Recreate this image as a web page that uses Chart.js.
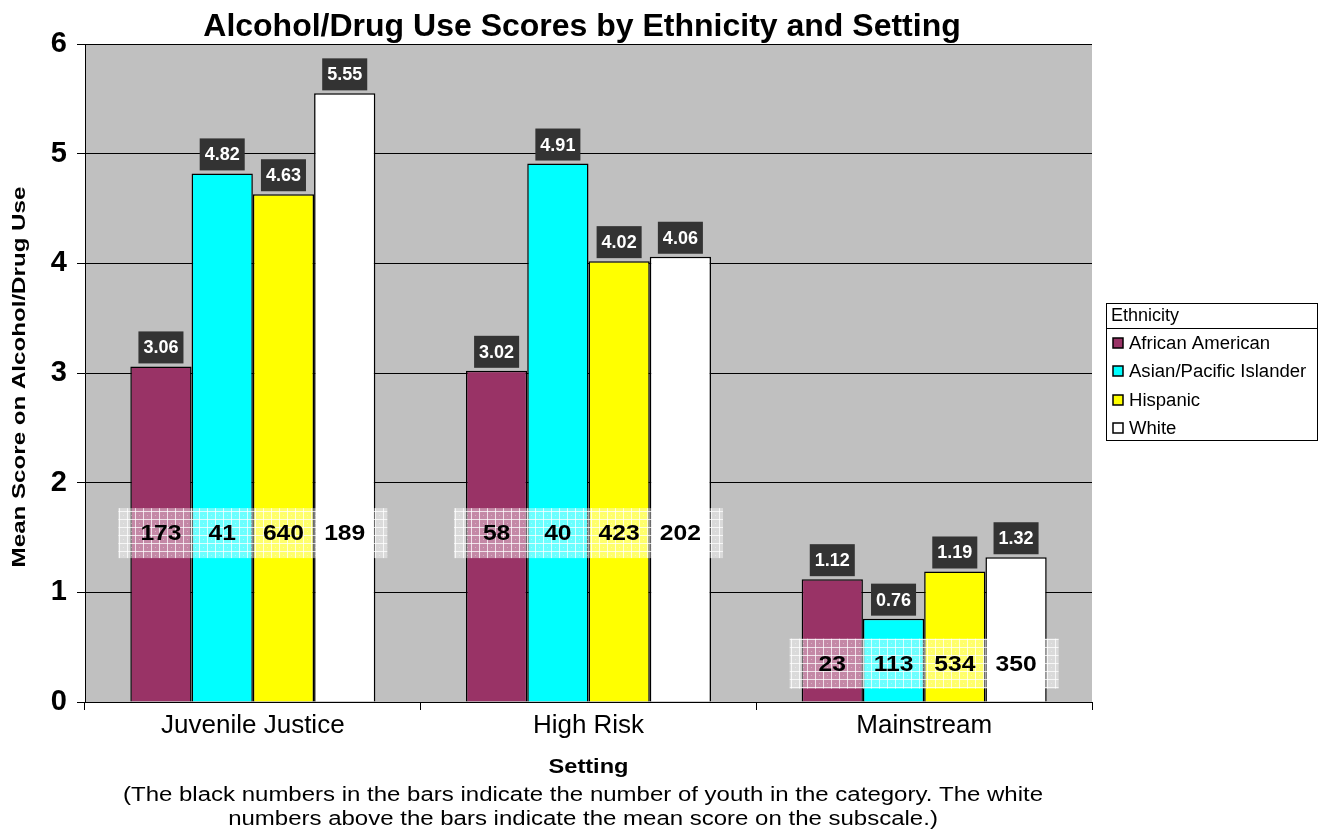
<!DOCTYPE html>
<html>
<head>
<meta charset="utf-8">
<title>Alcohol/Drug Use Scores by Ethnicity and Setting</title>
<script src="https://cdn.jsdelivr.net/npm/chart.js@4/dist/chart.umd.min.js"></script>
<style>
  html, body { margin: 0; padding: 0; background: #ffffff; }
  #wrap { width: 1320px; height: 834px; }
</style>
</head>
<body>
<div id="wrap"><canvas id="chart" width="1320" height="834"></canvas></div>
<script>
// Settings along the x axis
const settings = ['Juvenile Justice', 'High Risk', 'Mainstream'];

// Ethnic groups (one bar series each)
const ethnicities = ['African American', 'Asian/Pacific Islander', 'Hispanic', 'White'];

// Mean score on the alcohol/drug use subscale, per setting
const africanAmerican = [3.06, 3.02, 1.12];
const asianPacific    = [4.82, 4.91, 0.76];
const hispanic        = [4.63, 4.02, 1.19];
const white           = [5.55, 4.06, 1.32];

// Number of youth in each category, per setting
const nAfricanAmerican = [173, 58, 23];
const nAsianPacific    = [41, 40, 113];
const nHispanic        = [640, 423, 534];
const nWhite           = [189, 202, 350];

// Y axis ticks
const yTicks = [0, 1, 2, 3, 4, 5, 6];

const seriesValues = [africanAmerican, asianPacific, hispanic, white];
const seriesCounts = [nAfricanAmerican, nAsianPacific, nHispanic, nWhite];
const seriesColors = ['#993366', '#00ffff', '#ffff00', '#ffffff'];

const FONT = '"Liberation Sans", Arial, Helvetica, sans-serif';

// Draws text widened along its own direction by factor sx
function wideText(ctx, txt, x, y, sx, rot) {
  ctx.save();
  ctx.translate(x, y);
  if (rot) ctx.rotate(rot);
  ctx.scale(sx, 1);
  ctx.fillText(txt, 0, 0);
  ctx.restore();
}

// Grey plotting area
const plotBackground = {
  id: 'plotBackground',
  beforeDraw(chart) {
    const { ctx, chartArea: a } = chart;
    ctx.save();
    ctx.fillStyle = '#c0c0c0';
    ctx.fillRect(a.left, a.top, a.right - a.left, a.bottom - a.top);
    ctx.restore();
  }
};

// Hatched translucent band that carries the group sizes
function makeBandPattern(ctx) {
  const c = document.createElement('canvas');
  c.width = 8; c.height = 8;
  const p = c.getContext('2d');
  p.fillStyle = 'rgba(255,255,255,0.42)';
  p.fillRect(0, 0, 8, 8);
  p.fillStyle = 'rgba(255,255,255,0.75)';
  p.fillRect(7, 0, 1, 8);
  p.fillRect(0, 7, 8, 1);
  p.fillStyle = 'rgba(255,255,255,0.35)';
  p.fillRect(3, 3, 1, 1);
  return ctx.createPattern(c, 'repeat');
}

const countBands = {
  id: 'countBands',
  afterDatasetsDraw(chart, args, opts) {
    const { ctx } = chart;
    const y = chart.scales.y;
    const first = chart.getDatasetMeta(0);
    const last = chart.getDatasetMeta(chart.data.datasets.length - 1);
    const pattern = makeBandPattern(ctx);
    ctx.save();
    settings.forEach((_, i) => {
      const b0 = first.data[i], b3 = last.data[i];
      const left = b0.x - b0.width / 2 - opts.overhang;
      const right = b3.x + b3.width / 2 + opts.overhang;
      const cy = y.getPixelForValue(opts.level[i]);
      ctx.fillStyle = pattern;
      ctx.fillRect(left, cy - opts.height / 2, right - left, opts.height);
      ctx.fillStyle = '#000000';
      ctx.font = 'bold 22px ' + FONT;
      ctx.textAlign = 'center';
      ctx.textBaseline = 'middle';
      chart.data.datasets.forEach((ds, d) => {
        const bar = chart.getDatasetMeta(d).data[i];
        wideText(ctx, String(seriesCounts[d][i]), bar.x, cy + 1, 1.12);
      });
    });
    ctx.restore();
  }
};

// Dark value tags above each bar
const valueTags = {
  id: 'valueTags',
  afterDatasetsDraw(chart) {
    const { ctx } = chart;
    ctx.save();
    ctx.font = 'bold 18px ' + FONT;
    ctx.textAlign = 'center';
    ctx.textBaseline = 'middle';
    chart.data.datasets.forEach((ds, d) => {
      chart.getDatasetMeta(d).data.forEach((bar, i) => {
        const txt = ds.data[i].toFixed(2);
        const w = ctx.measureText(txt).width + 10;
        const h = 32;
        const bottom = bar.y - 3;
        ctx.fillStyle = '#333333';
        ctx.fillRect(bar.x - w / 2, bottom - h, w, h);
        ctx.fillStyle = '#ffffff';
        ctx.fillText(txt, bar.x, bottom - h / 2 + 1);
      });
    });
    ctx.restore();
  }
};

// Title, axis titles, footnote and the boxed legend
const annotations = {
  id: 'annotations',
  afterDraw(chart) {
    const { ctx, chartArea: a } = chart;
    ctx.save();
    ctx.fillStyle = '#000000';
    ctx.textAlign = 'center';
    ctx.textBaseline = 'alphabetic';

    ctx.font = 'bold 32px ' + FONT;
    ctx.fillText('Alcohol/Drug Use Scores by Ethnicity and Setting', 582, 36);

    ctx.font = 'bold 20px ' + FONT;
    wideText(ctx, 'Setting', (a.left + a.right) / 2, 773, 1.18);

    ctx.font = '20px ' + FONT;
    wideText(ctx, '(The black numbers in the bars indicate the number of youth in the category. The white', 583, 801, 1.2);
    wideText(ctx, 'numbers above the bars indicate the mean score on the subscale.)', 583, 825, 1.2);

    ctx.textBaseline = 'middle';
    ctx.font = 'bold 19px ' + FONT;
    wideText(ctx, 'Mean Score on Alcohol/Drug Use', 20, 377, 1.27, -Math.PI / 2);

    // legend box
    const lx = 1106.5, ly = 303.5, lw = 211, lh = 137;
    ctx.fillStyle = '#ffffff';
    ctx.fillRect(lx, ly, lw, lh);
    ctx.strokeStyle = '#000000';
    ctx.lineWidth = 1;
    ctx.strokeRect(lx, ly, lw, lh);
    ctx.beginPath();
    ctx.moveTo(lx, 328.5);
    ctx.lineTo(lx + lw, 328.5);
    ctx.stroke();
    ctx.fillStyle = '#000000';
    ctx.textAlign = 'left';
    ctx.font = '18px ' + FONT;
    ctx.fillText('Ethnicity', 1111, 316);
    const rows = [343, 371, 400, 428];
    chart.data.datasets.forEach((ds, d) => {
      ctx.fillStyle = ds.backgroundColor;
      ctx.fillRect(1113, rows[d] - 5, 10, 10);
      ctx.strokeStyle = '#000000';
      ctx.lineWidth = 1.5;
      ctx.strokeRect(1113, rows[d] - 5, 10, 10);
      ctx.fillStyle = '#000000';
      wideText(ctx, ds.label, 1129, rows[d] + 1, 1.03);
    });
    ctx.restore();
  }
};

const ctx = document.getElementById('chart').getContext('2d');
new Chart(ctx, {
  type: 'bar',
  data: {
    labels: settings,
    datasets: ethnicities.map((name, d) => ({
      label: name,
      data: seriesValues[d],
      backgroundColor: seriesColors[d],
      borderColor: '#000000',
      borderWidth: 1.5,
      borderSkipped: 'bottom'
    }))
  },
  options: {
    responsive: false,
    animation: false,
    layout: { padding: { left: 0, right: 228, top: 44, bottom: 0 } },
    datasets: { bar: { categoryPercentage: 0.73, barPercentage: 1.0 } },
    plugins: {
      legend: { display: false },
      title: { display: false },
      tooltip: { enabled: false },
      countBands: { level: [1.54, 1.54, 0.35], height: 50, overhang: 12 }
    },
    scales: {
      x: {
        afterFit(s) { s.height = 132; },
        grid: {
          display: true,
          drawOnChartArea: false,
          drawTicks: true,
          tickLength: 8,
          color: '#000000',
          offset: true
        },
        border: { display: true, color: '#000000', width: 1 },
        ticks: {
          color: '#000000',
          font: { family: FONT, size: 26 },
          padding: 0
        }
      },
      y: {
        min: 0,
        max: 6,
        afterFit(s) { s.width = 85; },
        afterBuildTicks(s) { s.ticks = yTicks.map(v => ({ value: v })); },
        grid: {
          color: '#000000',
          lineWidth: 1,
          tickLength: 8,
          drawTicks: true
        },
        border: { display: true, color: '#000000', width: 1 },
        ticks: {
          color: '#000000',
          font: { family: FONT, size: 29, weight: 'bold' },
          padding: 10
        }
      }
    }
  },
  plugins: [plotBackground, countBands, valueTags, annotations]
});
</script>
</body>
</html>
